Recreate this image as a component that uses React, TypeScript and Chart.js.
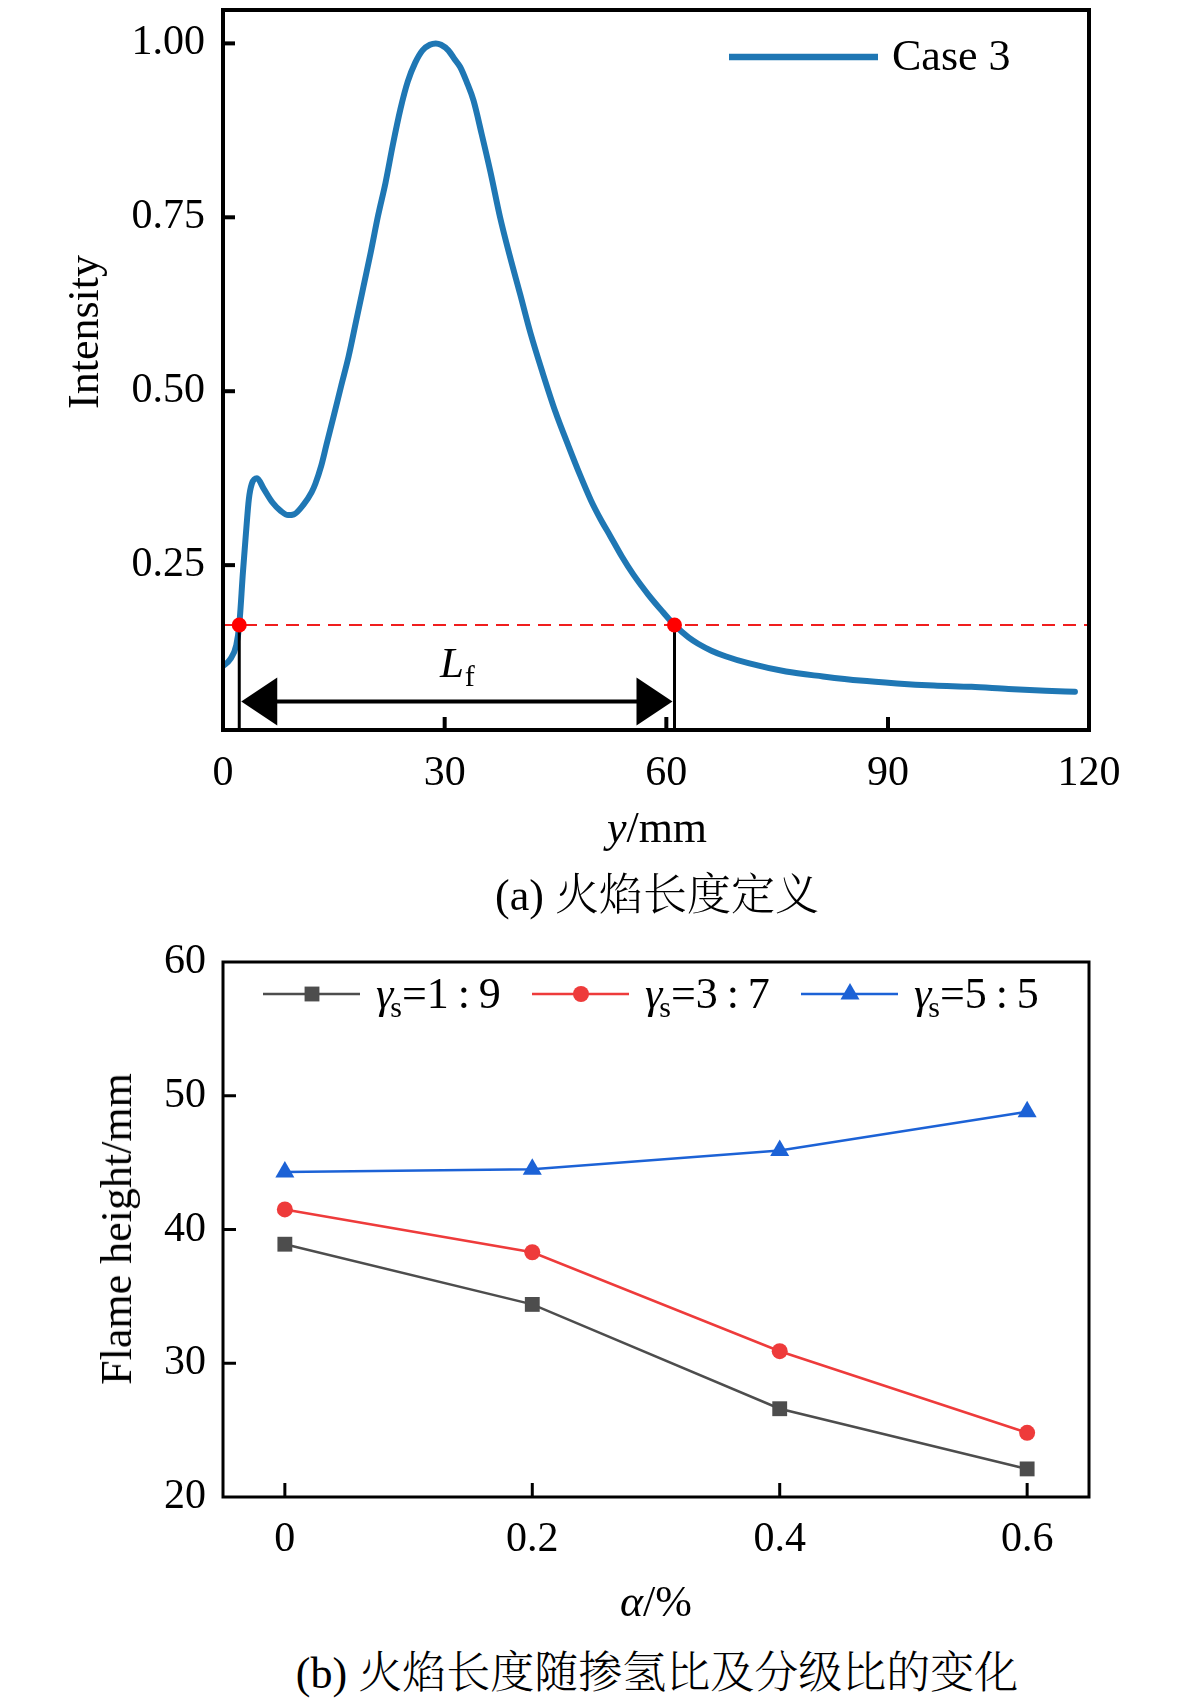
import React, { useEffect, useRef } from "react";
import { Chart, registerables } from "chart.js";

Chart.register(...registerables);

const SERIF = '"Liberation Serif", "Times New Roman", Times, serif';
const CAPTION_FONT = '"Liberation Serif", "Noto Serif CJK SC", "Noto Sans CJK SC", serif';

// ---------------- Panel (a): intensity profile ----------------
const positionMm = [
  0, 1, 1.8, 2.2, 2.7, 3.1, 3.5, 3.9, 4.6, 5.5, 6.7, 7.8, 8.8, 9.6, 10.9, 12.0, 12.5, 13.3, 14.0, 15.0,
  16.0, 17.0, 18.0, 19.0, 20.0, 21.0, 22.0, 23.0, 24.0, 25.0, 26.0, 27.0, 28.0, 28.8, 29.5, 30.5, 31.3,
  32.1, 33.0, 33.9, 35.0, 36.2, 37.5, 38.8, 40.2, 41.6, 43.3, 45.0, 46.8, 48.3, 49.8, 51.1, 52.4, 54.0,
  55.5, 57.6, 59.5, 61.1, 63.0, 64.3, 66.1, 68.0, 71.1, 76.2, 81.2, 86.2, 91.2, 96.2, 101.3, 106.3,
  111.3, 115.3,
];
const intensityCase3 = [
  0.105, 0.115, 0.135, 0.164, 0.24, 0.295, 0.345, 0.367, 0.375, 0.36, 0.34, 0.328, 0.322, 0.323, 0.337,
  0.355, 0.367, 0.393, 0.423, 0.465, 0.508, 0.55, 0.6, 0.65, 0.7, 0.753, 0.8, 0.855, 0.905, 0.945, 0.972,
  0.99, 0.998, 1.0, 0.998, 0.99, 0.978, 0.966, 0.944, 0.918, 0.87, 0.815, 0.75, 0.695, 0.64, 0.584, 0.525,
  0.47, 0.42, 0.38, 0.343, 0.316, 0.292, 0.262, 0.237, 0.207, 0.183, 0.164, 0.146, 0.137, 0.127, 0.119,
  0.109, 0.097, 0.09, 0.084, 0.08, 0.077, 0.075, 0.072, 0.0695, 0.068,
];
const caseLabel = "Case 3";
const thresholdIntensity = 0.164;
const flameStartMm = 2.2;
const flameEndMm = 61.1;
const arrowIntensity = 0.054;
const xTickValuesA = [0, 30, 60, 90, 117.2];
const xTickLabelsA = ["0", "30", "60", "90", "120"];
const yTickValuesA = [0.25, 0.5, 0.75, 1.0];
const yRangeA = [0.013, 1.048];

// ---------------- Panel (b): flame height ----------------
const alphaPercent = [0, 0.2, 0.4, 0.6];
const heightGamma19 = [38.9, 34.4, 26.6, 22.1];
const heightGamma37 = [41.5, 38.3, 30.9, 24.8];
const heightGamma55 = [44.3, 44.5, 45.9, 48.8];
const seriesRatios = ["1\u2009:\u20099", "3\u2009:\u20097", "5\u2009:\u20095"];
const xTickValuesB = [0, 0.2, 0.4, 0.6];
const yTickValuesB = [20, 30, 40, 50, 60];
const xRangeB = [-0.05, 0.65];
const yRangeB = [20, 60];

const BLUE_A = "#1f77b4";
const GRAY = "#4d4d4d";
const RED = "#ee3b3b";
const BLUE_B = "#1c62d6";

const W = 1181;
const A_H = 820;
const A_AREA = { left: 223, right: 1089, top: 10, bottom: 730 };
const B_TOP = 900;
const B_H = 700;
const B_AREA = { left: 223, right: 1089, top: 62, bottom: 597 };

function drawFrame(ctx: CanvasRenderingContext2D, a: any, lw: number) {
  ctx.save();
  ctx.strokeStyle = "#000";
  ctx.lineWidth = lw;
  ctx.strokeRect(a.left, a.top, a.right - a.left, a.bottom - a.top);
  ctx.restore();
}

function drawInwardTicks(chart: any, xVals: number[], yVals: number[], lenX: number, lenY: number, lw: number) {
  const { ctx, chartArea: a, scales } = chart;
  ctx.save();
  ctx.strokeStyle = "#000";
  ctx.lineWidth = lw;
  for (const v of xVals) {
    const px = scales.x.getPixelForValue(v);
    if (px <= a.left + 2 || px >= a.right - 2) continue;
    ctx.beginPath();
    ctx.moveTo(px, a.bottom);
    ctx.lineTo(px, a.bottom - lenX);
    ctx.stroke();
  }
  for (const v of yVals) {
    const py = scales.y.getPixelForValue(v);
    if (py <= a.top + 2 || py >= a.bottom - 2) continue;
    ctx.beginPath();
    ctx.moveTo(a.left, py);
    ctx.lineTo(a.left + lenY, py);
    ctx.stroke();
  }
  ctx.restore();
}

function drawMarker(ctx: CanvasRenderingContext2D, style: string, x: number, y: number, r: number, color: string) {
  ctx.fillStyle = color;
  ctx.beginPath();
  if (style === "rect") {
    const s = r * Math.SQRT1_2;
    ctx.rect(x - s, y - s, 2 * s, 2 * s);
  } else if (style === "triangle") {
    ctx.moveTo(x, y - r);
    ctx.lineTo(x + r * Math.sin(Math.PI / 3), y + r / 2);
    ctx.lineTo(x - r * Math.sin(Math.PI / 3), y + r / 2);
    ctx.closePath();
  } else {
    ctx.arc(x, y, r, 0, Math.PI * 2);
  }
  ctx.fill();
}

const panelAPlugin = {
  id: "panelADecor",
  afterDatasetsDraw(chart: any) {
    const { ctx, chartArea: a, scales } = chart;
    const x = scales.x;
    const y = scales.y;
    const ty = y.getPixelForValue(thresholdIntensity);
    const xs = x.getPixelForValue(flameStartMm);
    const xe = x.getPixelForValue(flameEndMm);
    ctx.save();
    // vertical guide lines
    ctx.strokeStyle = "#000";
    ctx.lineWidth = 3;
    [xs, xe].forEach((px) => {
      ctx.beginPath();
      ctx.moveTo(px, ty);
      ctx.lineTo(px, a.bottom);
      ctx.stroke();
    });
    // dashed threshold line
    ctx.strokeStyle = "#f01e1e";
    ctx.lineWidth = 2;
    ctx.setLineDash([13, 8]);
    ctx.beginPath();
    ctx.moveTo(a.left, ty);
    ctx.lineTo(a.right, ty);
    ctx.stroke();
    ctx.setLineDash([]);
    // intersection dots
    ctx.fillStyle = "#ff0000";
    [xs, xe].forEach((px) => {
      ctx.beginPath();
      ctx.arc(px, ty, 7.5, 0, Math.PI * 2);
      ctx.fill();
    });
    // double arrow
    const ay = y.getPixelForValue(arrowIntensity);
    const head = 36;
    const half = 24;
    const l = xs + 2;
    const r = xe - 2;
    ctx.strokeStyle = "#000";
    ctx.lineWidth = 4;
    ctx.beginPath();
    ctx.moveTo(l + head - 2, ay);
    ctx.lineTo(r - head + 2, ay);
    ctx.stroke();
    ctx.fillStyle = "#000";
    ctx.beginPath();
    ctx.moveTo(l, ay);
    ctx.lineTo(l + head, ay - half);
    ctx.lineTo(l + head, ay + half);
    ctx.closePath();
    ctx.fill();
    ctx.beginPath();
    ctx.moveTo(r, ay);
    ctx.lineTo(r - head, ay - half);
    ctx.lineTo(r - head, ay + half);
    ctx.closePath();
    ctx.fill();
    // L_f label
    ctx.textBaseline = "alphabetic";
    ctx.font = `italic 43px ${SERIF}`;
    const wL = ctx.measureText("L").width;
    ctx.font = `30px ${SERIF}`;
    const wf = ctx.measureText("f").width;
    const cx = (xs + xe) / 2;
    const sx = cx - (wL + wf) / 2;
    const base = ay - 24;
    ctx.font = `italic 43px ${SERIF}`;
    ctx.fillText("L", sx, base);
    ctx.font = `30px ${SERIF}`;
    ctx.fillText("f", sx + wL + 1, base + 9);
    ctx.restore();
  },
  afterDraw(chart: any) {
    const { ctx, chartArea: a } = chart;
    drawInwardTicks(chart, xTickValuesA, yTickValuesA, 13, 12, 4);
    drawFrame(ctx, a, 4);
    // legend
    ctx.save();
    const ds = chart.data.datasets[0];
    ctx.strokeStyle = ds.borderColor;
    ctx.lineWidth = 6.5;
    ctx.beginPath();
    ctx.moveTo(a.right - 360, a.top + 47);
    ctx.lineTo(a.right - 211, a.top + 47);
    ctx.stroke();
    ctx.fillStyle = "#000";
    ctx.font = `44px ${SERIF}`;
    ctx.textBaseline = "alphabetic";
    ctx.fillText(ds.label, a.right - 197, a.top + 60);
    ctx.restore();
  },
};

const panelBPlugin = {
  id: "panelBDecor",
  afterDraw(chart: any) {
    const { ctx, chartArea: a } = chart;
    drawInwardTicks(chart, xTickValuesB, yTickValuesB, 14, 13, 3);
    drawFrame(ctx, a, 3);
    ctx.save();
    const ly = a.top + 32;
    const base = a.top + 46;
    chart.data.datasets.forEach((ds: any, i: number) => {
      const lx = a.left + 40 + i * 269;
      ctx.strokeStyle = ds.borderColor;
      ctx.lineWidth = 2.5;
      ctx.beginPath();
      ctx.moveTo(lx, ly);
      ctx.lineTo(lx + 97, ly);
      ctx.stroke();
      drawMarker(ctx, ds.pointStyle, lx + 49, ly, ds.pointRadius, ds.backgroundColor);
      const tx = lx + 113;
      ctx.fillStyle = "#000";
      ctx.textBaseline = "alphabetic";
      ctx.font = `italic 44px ${SERIF}`;
      ctx.fillText("\u03b3", tx, base);
      const wg = ctx.measureText("\u03b3").width;
      ctx.font = `30px ${SERIF}`;
      ctx.fillText("s", tx + wg - 3, base + 9);
      const ws = ctx.measureText("s").width;
      ctx.font = `44px ${SERIF}`;
      ctx.fillText("=" + seriesRatios[i], tx + wg + ws - 3, base);
    });
    ctx.restore();
  },
};

export default function App() {
  const refA = useRef<HTMLCanvasElement>(null);
  const refB = useRef<HTMLCanvasElement>(null);

  useEffect(() => {
    document.body.style.margin = "0";
    const tickFont = { family: SERIF, size: 42 };

    const chartA = new Chart(refA.current as HTMLCanvasElement, {
      type: "line",
      data: {
        datasets: [
          {
            label: caseLabel,
            data: positionMm.map((p, i) => ({ x: p, y: intensityCase3[i] })),
            borderColor: BLUE_A,
            backgroundColor: BLUE_A,
            borderWidth: 6,
            pointRadius: 0,
            cubicInterpolationMode: "monotone",
            borderJoinStyle: "round",
            borderCapStyle: "round",
            fill: false,
          },
        ],
      },
      options: {
        animation: false,
        responsive: false,
        devicePixelRatio: 1,
        layout: { padding: { left: 0, right: W - A_AREA.right, top: A_AREA.top, bottom: 0 } },
        plugins: { legend: { display: false }, tooltip: { enabled: false } },
        scales: {
          x: {
            type: "linear",
            min: 0,
            max: xTickValuesA[xTickValuesA.length - 1],
            afterBuildTicks: (s: any) => {
              s.ticks = xTickValuesA.map((v) => ({ value: v }));
            },
            ticks: {
              font: tickFont,
              color: "#000",
              padding: 19,
              maxRotation: 0,
              autoSkip: false,
              callback: (_v: any, i: number) => xTickLabelsA[i],
            },
            grid: { display: false, drawTicks: false },
            border: { display: false },
            afterFit: (s: any) => {
              s.height = A_H - A_AREA.bottom;
              s.paddingLeft = 0;
              s.paddingRight = 0;
            },
          },
          y: {
            type: "linear",
            min: yRangeA[0],
            max: yRangeA[1],
            afterBuildTicks: (s: any) => {
              s.ticks = yTickValuesA.map((v) => ({ value: v }));
            },
            ticks: {
              font: tickFont,
              color: "#000",
              padding: 18,
              callback: (v: any) => Number(v).toFixed(2),
            },
            grid: { display: false, drawTicks: false },
            border: { display: false },
            afterFit: (s: any) => {
              s.width = A_AREA.left;
              s.paddingTop = 0;
              s.paddingBottom = 0;
            },
          },
        },
      },
      plugins: [panelAPlugin],
    } as any);

    const mk = (label: string, values: number[], color: string, style: string, radius: number) => ({
      label,
      data: alphaPercent.map((a, i) => ({ x: a, y: values[i] })),
      borderColor: color,
      backgroundColor: color,
      borderWidth: 2.5,
      pointStyle: style,
      pointRadius: radius,
      pointBorderWidth: 0,
      pointBackgroundColor: color,
      tension: 0,
      fill: false,
    });

    const chartB = new Chart(refB.current as HTMLCanvasElement, {
      type: "line",
      data: {
        datasets: [
          mk("γs=" + seriesRatios[0], heightGamma19, GRAY, "rect", 10.5),
          mk("γs=" + seriesRatios[1], heightGamma37, RED, "circle", 8),
          mk("γs=" + seriesRatios[2], heightGamma55, BLUE_B, "triangle", 11),
        ],
      },
      options: {
        animation: false,
        responsive: false,
        devicePixelRatio: 1,
        layout: { padding: { left: 0, right: W - B_AREA.right, top: B_AREA.top, bottom: 0 } },
        plugins: { legend: { display: false }, tooltip: { enabled: false } },
        scales: {
          x: {
            type: "linear",
            min: xRangeB[0],
            max: xRangeB[1],
            afterBuildTicks: (s: any) => {
              s.ticks = xTickValuesB.map((v) => ({ value: v }));
            },
            ticks: {
              font: tickFont,
              color: "#000",
              padding: 18,
              maxRotation: 0,
              autoSkip: false,
              callback: (v: any) => String(v),
            },
            grid: { display: false, drawTicks: false },
            border: { display: false },
            afterFit: (s: any) => {
              s.height = B_H - B_AREA.bottom;
              s.paddingLeft = 0;
              s.paddingRight = 0;
            },
          },
          y: {
            type: "linear",
            min: yRangeB[0],
            max: yRangeB[1],
            afterBuildTicks: (s: any) => {
              s.ticks = yTickValuesB.map((v) => ({ value: v }));
            },
            ticks: {
              font: tickFont,
              color: "#000",
              padding: 17,
              callback: (v: any) => String(v),
            },
            grid: { display: false, drawTicks: false },
            border: { display: false },
            afterFit: (s: any) => {
              s.width = B_AREA.left;
              s.paddingTop = 0;
              s.paddingBottom = 0;
            },
          },
        },
      },
      plugins: [panelBPlugin],
    } as any);

    return () => {
      chartA.destroy();
      chartB.destroy();
    };
  }, []);

  const textBase: React.CSSProperties = {
    position: "absolute",
    whiteSpace: "nowrap",
    lineHeight: 1,
    color: "#000",
    fontFamily: SERIF,
    fontSize: 44,
  };

  return (
    <div style={{ position: "absolute", left: 0, top: 0, width: W, height: 1700, background: "#fff", overflow: "hidden" }}>
      <canvas ref={refA} width={W} height={A_H} style={{ position: "absolute", left: 0, top: 0, width: W, height: A_H }} />
      <canvas ref={refB} width={W} height={B_H} style={{ position: "absolute", left: 0, top: B_TOP, width: W, height: B_H }} />

      <div style={{ ...textBase, left: 84, top: 332, transform: "translate(-50%, -50%) rotate(-90deg)" }}>Intensity</div>
      <div style={{ ...textBase, left: 657, top: 828, transform: "translate(-50%, -50%)" }}>
        <i>y</i>/mm
      </div>
      <div style={{ ...textBase, fontFamily: CAPTION_FONT, fontWeight: 300, left: 657, top: 896, transform: "translate(-50%, -50%)" }}>
        (a) 火焰长度定义
      </div>

      <div style={{ ...textBase, left: 117, top: 1229, transform: "translate(-50%, -50%) rotate(-90deg)" }}>Flame height/mm</div>
      <div style={{ ...textBase, left: 656, top: 1602, transform: "translate(-50%, -50%)" }}>
        <i>α</i>/%
      </div>
      <div style={{ ...textBase, fontFamily: CAPTION_FONT, fontWeight: 300, left: 657, top: 1674, transform: "translate(-50%, -50%)" }}>
        (b) 火焰长度随掺氢比及分级比的变化
      </div>
    </div>
  );
}
